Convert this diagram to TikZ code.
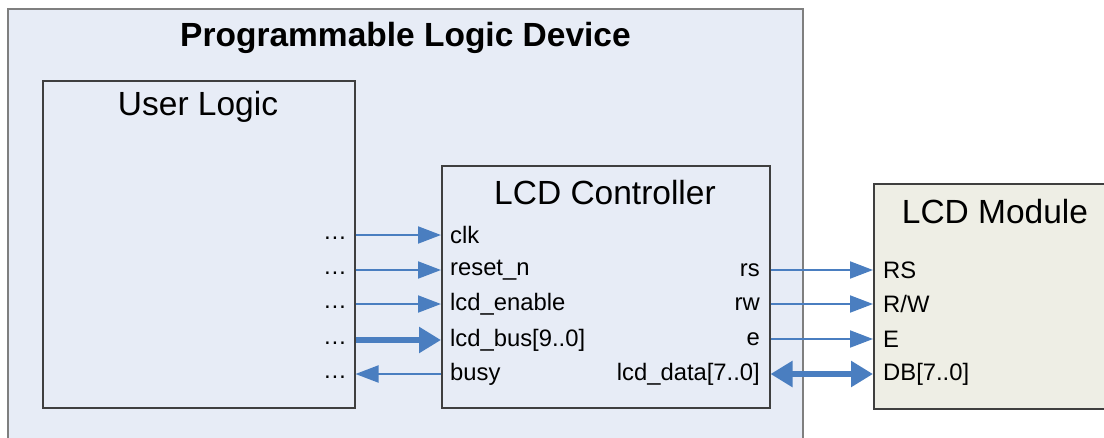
\documentclass[tikz,border=0pt]{standalone}
\usepackage{fontspec}
\setmainfont{Liberation Sans}
\usetikzlibrary{arrows.meta}
\definecolor{pldfill}{HTML}{E7ECF6}
\definecolor{pldline}{HTML}{7F7F7F}
\definecolor{boxline}{HTML}{3F3F3F}
\definecolor{modfill}{HTML}{EEEEE5}
\definecolor{wire}{HTML}{4A7EC0}
\tikzset{
  big/.style={font=\fontsize{33.5}{40}\selectfont, inner sep=0pt},
  bigbold/.style={font=\fontsize{33.5}{40}\selectfont\bfseries, inner sep=0pt},
  port/.style={font=\fontsize{23.8}{28}\selectfont, inner sep=0pt},
  thin/.style={draw=wire, line width=2pt, -{Triangle[length=23pt,width=17pt]}},
  thick/.style={draw=wire, line width=5.5pt, -{Triangle[length=22pt,width=25pt]}},
  thickboth/.style={draw=wire, line width=5.5pt, {Triangle[length=22pt,width=25pt]}-{Triangle[length=22pt,width=25pt]}},
}
\begin{document}
\begin{tikzpicture}[x=1pt,y=-1pt]
\useasboundingbox (0,0) rectangle (1104,437);
% boxes
\path[fill=pldfill, draw=pldline, line width=1.5pt] (8,9) rectangle (803,460);
\node[bigbold] (pldt) at (405.5,38) {Programmable Logic Device};
\node[draw=boxline, fill=pldfill, line width=1.5pt, minimum width=312pt, minimum height=327pt, anchor=north west, inner sep=0pt] (ul) at (42,80) {};
\node[big] (ult) at (198,107) {User Logic};
\node[draw=boxline, fill=pldfill, line width=1.5pt, minimum width=328pt, minimum height=242pt, anchor=north west, inner sep=0pt] (ctrl) at (441,165) {};
\node[big] (ctrlt) at (605,193) {LCD Controller};
\node[draw=boxline, fill=modfill, line width=1.5pt, minimum width=250pt, minimum height=225pt, anchor=north west, inner sep=0pt] (mod) at (873,183) {};
\node[big] (modt) at (995,212) {LCD Module};
% controller input ports
\node[port, anchor=west] (clk) at (450,235) {clk};
\node[port, anchor=west] (rst) at (450,270) {reset\_n};
\node[port, anchor=west] (en) at (450,304) {lcd\_enable};
\node[port, anchor=west] (bus) at (450,340) {lcd\_bus[9..0]};
\node[port, anchor=west] (busy) at (450,374) {busy};
% dots
\node[port] (d1) at (335,238) {…};
\node[port] (d2) at (335,273) {…};
\node[port] (d3) at (335,307) {…};
\node[port] (d4) at (335,343) {…};
\node[port] (d5) at (335,377) {…};
% controller output ports
\node[port, anchor=east] (rs) at (760,270) {rs};
\node[port, anchor=east] (rw) at (760,304) {rw};
\node[port, anchor=east] (e) at (760,339) {e};
\node[port, anchor=east] (data) at (760,374) {lcd\_data[7..0]};
% module ports
\node[port, anchor=west] (RS) at (883,270) {RS};
\node[port, anchor=west] (RW) at (883,304) {R/W};
\node[port, anchor=west] (E) at (883,339) {E};
\node[port, anchor=west] (DB) at (883,374) {DB[7..0]};
% connectors
\draw[thin] (ul.east |- clk.west) -- (ctrl.west |- clk.west);
\draw[thin] (ul.east |- rst.west) -- (ctrl.west |- rst.west);
\draw[thin] (ul.east |- en.west) -- (ctrl.west |- en.west);
\draw[thick] (ul.east |- bus.west) -- (ctrl.west |- bus.west);
\draw[thin] (ctrl.west |- busy.west) -- (ul.east |- busy.west);
\draw[thin] (ctrl.east |- rs.east) -- (mod.west |- rs.east);
\draw[thin] (ctrl.east |- rw.east) -- (mod.west |- rw.east);
\draw[thin] (ctrl.east |- e.east) -- (mod.west |- e.east);
\draw[thickboth] (ctrl.east |- data.east) -- (mod.west |- data.east);
\end{tikzpicture}
\end{document}
